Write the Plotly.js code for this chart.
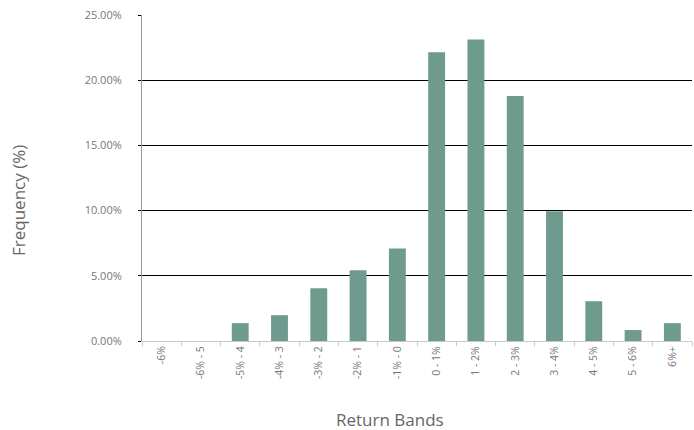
<!DOCTYPE html>
<html>
<head>
<meta charset="utf-8">
<script src="https://cdn.plot.ly/plotly-3.0.1.min.js"></script>
<style>html,body{margin:0;padding:0;background:#fff;}#chart{width:694px;height:430px;}</style>
</head>
<body>
<div id="chart"></div>
<script>
var categories = ["-6%", "-6% - 5", "-5% - 4", "-4% - 3", "-3% - 2", "-2% - 1", "-1% - 0",
  "0 - 1%", "1 - 2%", "2 - 3%", "3 - 4%", "4 - 5%", "5 - 6%", "6%+"];
var frequency = [0, 0, 1.37, 1.98, 4.05, 5.42, 7.10, 22.14, 23.13, 18.78, 9.95, 3.05, 0.84, 1.37];
var yTicks = [0, 5, 10, 15, 20, 25];
var yTickLabels = ["0.00%", "5.00%", "10.00%", "15.00%", "20.00%", "25.00%"];

var trace = {
  type: "bar",
  x: categories,
  y: frequency,
  marker: {color: "#6f9b8f"},
  hoverinfo: "x+y"
};

var layout = {
  width: 694, height: 430,
  margin: {l: 142, r: 2, t: 15, b: 89},
  paper_bgcolor: "#ffffff",
  plot_bgcolor: "#ffffff",
  font: {family: "Open Sans, sans-serif", color: "#777777", size: 11},
  showlegend: false,
  bargap: 0.57,
  xaxis: {
    type: "category",
    tickangle: -90,
    tickson: "boundaries",
    ticks: "outside",
    ticklen: 4,
    tickcolor: "#c8c8c8",
    showline: true,
    linecolor: "#c8c8c8",
    linewidth: 1,
    showgrid: false,
    zeroline: false,
    tickfont: {size: 10.5, color: "#777777"},
    fixedrange: true
  },
  yaxis: {
    range: [0, 25],
    tickvals: yTicks,
    ticktext: yTickLabels,
    ticks: "outside",
    ticklen: 3,
    tickcolor: "#000000",
    showline: true,
    linecolor: "#999999",
    linewidth: 1,
    showgrid: true,
    gridcolor: "#000000",
    gridwidth: 1,
    zeroline: false,
    ticklabelstandoff: 14,
    tickfont: {size: 11, color: "#777777"},
    fixedrange: true
  },
  annotations: [
    {text: "Return Bands", xref: "paper", yref: "paper", x: (390 - 142) / 550, y: 0, yshift: -78,
     xanchor: "center", yanchor: "middle", showarrow: false,
     font: {size: 17, color: "#666666", family: "Open Sans, sans-serif"}},
    {text: "Frequency (%)", xref: "paper", yref: "paper", x: 0, xshift: -124, y: (341 - 201) / 326,
     textangle: -90, xanchor: "center", yanchor: "middle", showarrow: false,
     font: {size: 17, color: "#666666", family: "Open Sans, sans-serif"}}
  ]
};

Plotly.newPlot("chart", [trace], layout, {displayModeBar: false, staticPlot: true});
</script>
</body>
</html>
